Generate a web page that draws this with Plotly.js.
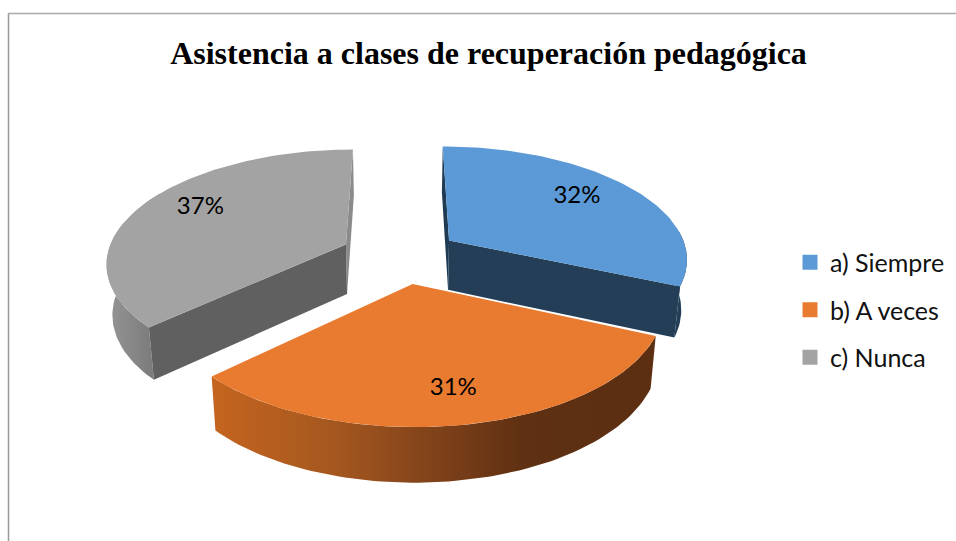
<!DOCTYPE html>
<html><head><meta charset="utf-8">
<script src="https://cdn.plot.ly/plotly-3.0.1.min.js"></script>
<style>html,body{margin:0;padding:0;background:#fff}#c{width:956px;height:541px}</style>
</head><body><div id="c"></div>
<script>
const chartTitle = 'Asistencia a clases de recuperación pedagógica';
const categories = ['a) Siempre', 'b) A veces', 'c) Nunca'];
const shares = [31.6, 31.4, 37];
const topColors = ['#5B9AD6', '#E97B30', '#A3A3A3'];

// view geometry of the exploded, tilted pie (pixel-scaled hidden axes)
const X0 = 400, Y0 = 255.4, R = 239, A = 112.2, P = 0.15, DEPTH = 50, EXPLODE = 0.25;
const explodeTurn = [0, -2, 0];
const labelRadius = [0.73, 0.78, 0.75], labelTurn = [-2.5, -0.5, 4.6];

function proj(u, w, low) {
  const s = 1 / (1 + P * w);
  let x = X0 + R * u * s, y = Y0 - A * w * s;
  if (low) { x = X0 + (x - X0) * 0.98; y += DEPTH / (1 + 0.08 * w); }
  return [x, y];
}
const rad = d => d * Math.PI / 180;
const total = shares.reduce((a, b) => a + b, 0);
let acc = 0;
const slices = shares.map((v, i) => {
  const a0 = acc / total * 360; acc += v; const a1 = acc / total * 360; const mid = (a0 + a1) / 2;
  const e = mid + explodeTurn[i];
  return { a0, a1, mid, ox: EXPLODE * Math.sin(rad(e)), oz: EXPLODE * Math.cos(rad(e)) };
});
function rimPt(sl, a, low) {
  return proj(sl.ox + Math.sin(rad(a)), sl.oz + Math.cos(rad(a)), low);
}
function arc(sl, from, to, low) {
  const n = Math.max(2, Math.ceil(Math.abs(to - from) / 1.5)), out = [];
  for (let i = 0; i <= n; i++) out.push(rimPt(sl, from + (to - from) * i / n, low));
  return out;
}
function poly(pts, color, extra) {
  return Object.assign({
    x: pts.map(p => p[0]), y: pts.map(p => p[1]), type: 'scatter', mode: 'lines', fill: 'toself',
    fillcolor: color, line: { width: 0, color: color }, hoverinfo: 'skip', showlegend: false
  }, extra || {});
}
function rimWall(sl, from, to, color, extra) {
  return poly(arc(sl, from, to, false).concat(arc(sl, to, from, true)), color, extra);
}
function radialWall(sl, a, color) {
  const c0 = proj(sl.ox, sl.oz, false), c1 = proj(sl.ox, sl.oz, true);
  return poly([c0, rimPt(sl, a, false), rimPt(sl, a, true), c1], color);
}
function topFace(sl, color) {
  return poly([proj(sl.ox, sl.oz, false)].concat(arc(sl, sl.a0, sl.a1, false)), color);
}
const [b, o, g] = slices;
const traces = [
  // gray
  radialWall(g, g.a1, '#8b8b8b'),
  rimWall(g, g.a0, 300, '#8a8a8a', { fillgradient: { type: 'horizontal', colorscale: [[0, '#969696'], [0.5, '#858585'], [1, '#747474']] } }),
  radialWall(g, g.a0, '#606060'),
  topFace(g, topColors[2]),
  // blue
  radialWall(b, b.a0, '#1f3b54'),
  rimWall(b, 85, b.a1, '#233e56'),
  radialWall(b, b.a1, '#233e56'),
  topFace(b, topColors[0]),
  // orange
  rimWall(o, o.a0, o.a1, '#7f421a', { fillgradient: { type: 'horizontal', colorscale: [[0, '#c5651f'], [0.28, '#a4571f'], [0.5, '#80421a'], [0.7, '#5f3012'], [1, '#5c2f12']] } }),
  topFace(o, topColors[1])
];
// percentage labels
const lab = slices.map((sl, i) => {
  const t = rad(sl.mid + labelTurn[i]);
  return proj(sl.ox + labelRadius[i] * Math.sin(t), sl.oz + labelRadius[i] * Math.cos(t), false);
});
traces.push({
  x: lab.map(p => p[0]), y: lab.map(p => p[1]), type: 'scatter', mode: 'text',
  text: shares.map(v => Math.round(v) + '%'), textposition: 'middle center',
  textfont: { family: 'Lato, Carlito, sans-serif', size: 24, color: '#000' }, hoverinfo: 'skip', showlegend: false
});
// legend entries
categories.forEach((name, i) => traces.push({
  x: [null], y: [null], type: 'scatter', mode: 'markers', name: name, legendgroup: name,
  marker: { symbol: 'square', size: 15, color: topColors[i] }, hoverinfo: 'skip'
}));

const layout = {
  width: 956, height: 541, margin: { l: 0, r: 0, t: 0, b: 0 }, paper_bgcolor: '#fff', plot_bgcolor: '#fff',
  xaxis: { range: [0, 956], visible: false, fixedrange: true },
  yaxis: { range: [541, 0], visible: false, fixedrange: true },
  title: { text: '<b>' + chartTitle + '</b>', x: 488.5 / 956, xanchor: 'center', y: 1 - 53 / 541, yanchor: 'middle',
           font: { family: 'Liberation Serif, Times New Roman, serif', size: 32, color: '#000' } },
  legend: { x: 790 / 956, xanchor: 'left', y: 1 - 310 / 541, yanchor: 'middle', bgcolor: 'rgba(0,0,0,0)',
            font: { family: 'Lato, Carlito, sans-serif', size: 25, color: '#111' }, itemwidth: 30, tracegroupgap: 12, traceorder: 'grouped', itemclick: false, itemdoubleclick: false },
  shapes: [
    { type: 'line', x0: 8.5, x1: 8.5, y0: 13.5, y1: 541, line: { color: '#999', width: 1.5 } },
    { type: 'line', x0: 8, x1: 956, y0: 13.5, y1: 13.5, line: { color: '#aaa', width: 1.5 } }
  ]
};
Plotly.newPlot('c', traces, layout, { displayModeBar: false });
</script></body></html>
